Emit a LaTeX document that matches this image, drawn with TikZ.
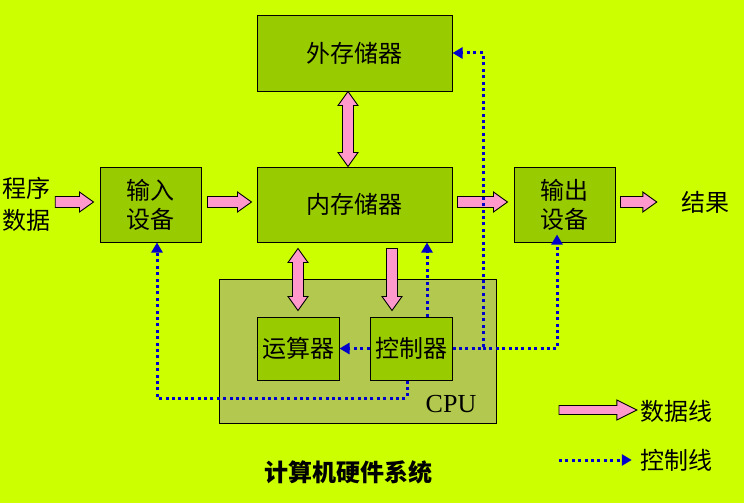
\documentclass[tikz,border=0pt]{standalone}
\usepackage{fontspec}
\setmainfont{Liberation Serif}
\newfontfamily\cjk{Noto Sans CJK SC}
\usetikzlibrary{calc,arrows.meta}
\definecolor{bgc}{HTML}{CCFF00}
\definecolor{boxg}{HTML}{99CC00}
\definecolor{cpug}{HTML}{B2C84E}
\definecolor{pinkf}{HTML}{FF99CC}
\definecolor{ctlblue}{HTML}{0000CC}
\newcommand\fhl{14pt}
\newcommand\fsw{5.5pt}
\newcommand\fhw{10pt}
\newcommand\fatone[2]{%
  \coordinate (fA) at #1; \coordinate (fB) at #2;
  \coordinate (fH) at ($(fB)!\fhl!(fA)$);
  \filldraw[fat] ($(fA)!\fsw!90:(fB)$) -- ($(fH)!\fsw!-90:(fA)$) -- ($(fH)!\fhw!-90:(fA)$) -- (fB)
    -- ($(fH)!\fhw!90:(fA)$) -- ($(fH)!\fsw!90:(fA)$) -- ($(fA)!\fsw!-90:(fB)$) -- cycle;}
\newcommand\fattwo[2]{%
  \coordinate (fA) at #1; \coordinate (fB) at #2;
  \coordinate (fH) at ($(fB)!\fhl!(fA)$);
  \coordinate (fG) at ($(fA)!\fhl!(fB)$);
  \filldraw[fat] (fA) -- ($(fG)!\fhw!90:(fB)$) -- ($(fG)!\fsw!90:(fB)$) -- ($(fH)!\fsw!-90:(fA)$)
    -- ($(fH)!\fhw!-90:(fA)$) -- (fB) -- ($(fH)!\fhw!90:(fA)$) -- ($(fH)!\fsw!90:(fA)$)
    -- ($(fG)!\fsw!-90:(fB)$) -- ($(fG)!\fhw!-90:(fB)$) -- cycle;}
\begin{document}
\begin{tikzpicture}[x=1pt,y=-1pt,
  cjkfont/.style={font=\cjk\fontsize{24}{29}\selectfont},
  box/.style={draw=black, line width=1pt, fill=boxg, inner sep=0pt, align=center, cjkfont},
  lbl/.style={inner sep=0pt, align=center, cjkfont},
  fat/.style={draw=black, line width=0.9pt, fill=pinkf, line join=miter},
  ctl/.style={draw=ctlblue, line width=3pt, dash pattern=on 3pt off 3.4pt,
              -{Triangle[length=10pt,width=11pt]}}]
\fill[bgc] (0,0) rectangle (744,503);
\useasboundingbox (0,0) rectangle (744,503);

% CPU frame
\node[draw=black, line width=1pt, fill=cpug, minimum width=277pt, minimum height=144pt, inner sep=0pt] (cpu) at (357.5,351) {};
\node[inner sep=0pt, font=\fontsize{26}{30}\selectfont] (cpulbl) at (451,404) {CPU};

% boxes
\node[box, minimum width=195pt, minimum height=75pt] (ext) at (354.5,53.5) {外存储器};
\node[box, minimum width=195pt, minimum height=75pt] (mem) at (354.5,204.5) {内存储器};
\node[box, minimum width=101pt, minimum height=75pt] (in) at (150.5,204.5) {输入\\设备};
\node[box, minimum width=101pt, minimum height=75pt] (out) at (564.5,204.5) {输出\\设备};
\node[box, minimum width=82pt, minimum height=63pt] (alu) at (298,348.5) {运算器};
\node[box, minimum width=82pt, minimum height=63pt] (ctrl) at (411,348.5) {控制器};

% free texts
\node[lbl, font=\cjk\fontsize{24}{32}\selectfont] (prog) at (26,204) {程序\\数据};
\node[lbl] (res) at (705,202) {结果};
\node[lbl, font=\cjk\bfseries\fontsize{24}{29}\selectfont] (title) at (348,472) {计算机硬件系统};

% data arrows
\fatone{([xshift=5pt]prog.east |- 0,202)}{([xshift=-6pt]in.west |- 0,202)}
\fatone{([xshift=6pt]in.east |- 0,202)}{([xshift=-5pt]mem.west |- 0,202)}
\fatone{([xshift=5pt]mem.east |- 0,202)}{([xshift=-6pt]out.west |- 0,202)}
\fatone{([xshift=5pt]out.east |- 0,202)}{([xshift=-24pt]res.west |- 0,202)}
\fattwo{([xshift=-6.5pt]ext.south)}{([xshift=-6.5pt]mem.north)}
\fattwo{([yshift=-6pt]mem.south -| alu.north)}{([yshift=6pt]alu.north)}
\fatone{([yshift=-6pt]mem.south -| 392,0)}{([yshift=6pt]ctrl.north -| 392,0)}

% control lines
\coordinate (j1) at (ctrl.east -| 483,0);
\draw[ctl] ([xshift=16pt]ctrl.north) -- ([xshift=16pt]ctrl.north |- mem.south);
\draw[ctl] (ctrl.east) -- (j1) -- (j1 |- 0,53) -- (ext.east |- 0,53);
\draw[ctl] (j1) -- (ctrl.east -| 557,0) -- ([yshift=8pt]out.south -| 557,0);
\draw[ctl] (ctrl.west) -- (alu.east);
\draw[ctl] ([xshift=-4pt]ctrl.south) -- ([xshift=-4pt]ctrl.south |- 0,398) -- (157,398) -- (in.south -| 157,0);

% legend
\renewcommand\fsw{4.5pt}
\renewcommand\fhl{20pt}
\node[lbl] (ldata) at (676,411) {数据线};
\node[lbl] (lctl) at (676,460) {控制线};
\coordinate (ld0) at (559,410);
\coordinate (lc0) at (559,460);
\fatone{(ld0)}{([xshift=-3pt]ldata.west |- ld0)}
\draw[ctl] (lc0) -- ([xshift=-8pt]lctl.west |- lc0);
\end{tikzpicture}
\end{document}
